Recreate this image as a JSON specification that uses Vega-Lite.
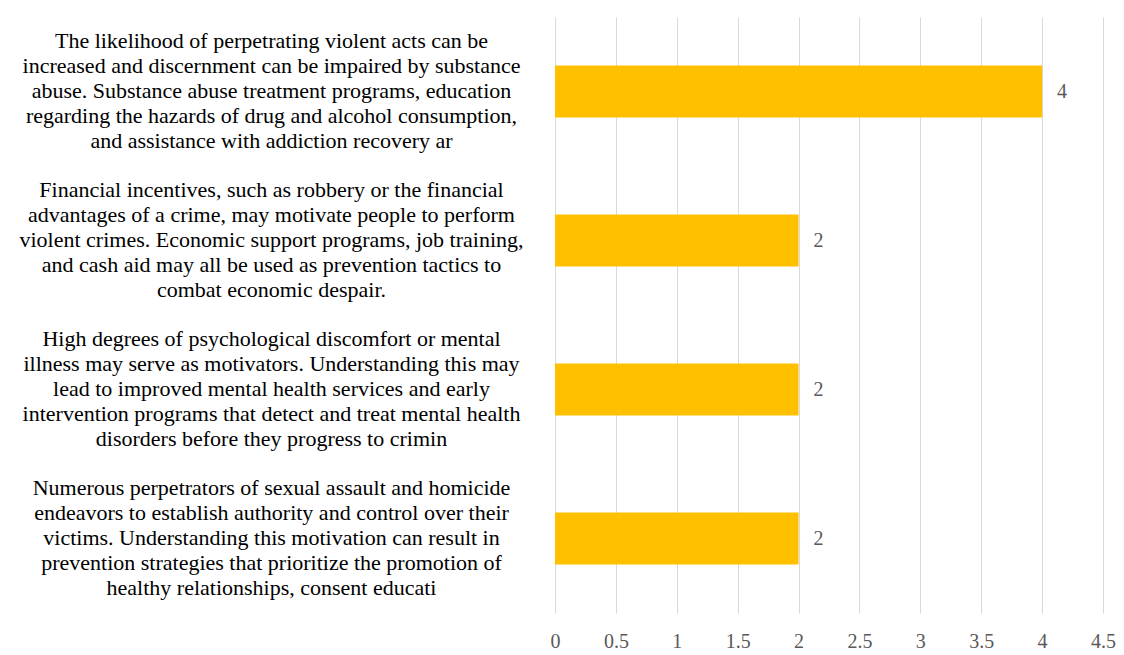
{
  "$schema": "https://vega.github.io/schema/vega-lite/v6.json",
  "autosize": {"type": "none"},
  "width": 548,
  "height": 596,
  "padding": {"left": 555, "top": 17, "right": 21, "bottom": 42},
  "background": "white",
  "config": {"view": {"stroke": null}, "font": "Liberation Serif", "axis": {"labelFont": "Liberation Serif"}, "text": {"font": "Liberation Serif"}},
  "data": {"values": [
    {"label": "The likelihood of perpetrating violent acts can be|increased and discernment can be impaired by substance|abuse. Substance abuse treatment programs, education|regarding the hazards of drug and alcohol consumption,|and assistance with addiction recovery ar", "value": 4},
    {"label": "Financial incentives, such as robbery or the financial|advantages of a crime, may motivate people to perform|violent crimes. Economic support programs, job training,|and cash aid may all be used as prevention tactics to|combat economic despair.", "value": 2},
    {"label": "High degrees of psychological discomfort or mental|illness may serve as motivators. Understanding this may|lead to improved mental health services and early|intervention programs that detect and treat mental health|disorders before they progress to crimin", "value": 2},
    {"label": "Numerous perpetrators of sexual assault and homicide|endeavors to establish authority and control over their|victims. Understanding this motivation can result in|prevention strategies that prioritize the promotion of|healthy relationships, consent educati", "value": 2}
  ]},
  "encoding": {
    "y": {"field": "label", "type": "nominal", "sort": null,
      "scale": {"paddingInner": 0.65, "paddingOuter": 0.325},
      "axis": {"title": null, "domain": false, "ticks": false,
        "labelExpr": "split(datum.value, '|')",
        "labelAlign": "center", "labelPadding": 284, "labelLimit": 0,
        "labelOffset": -51,
        "labelFontSize": 22, "labelLineHeight": 25, "labelColor": "#000000",
        "labelFont": "Liberation Serif"}},
    "x": {"field": "value", "type": "quantitative",
      "scale": {"domain": [0, 4.5], "nice": false},
      "axis": {"title": null, "values": [0,0.5,1,1.5,2,2.5,3,3.5,4,4.5], "format": "~g",
        "domain": false, "ticks": false, "grid": true, "gridColor": "#d9d9d9", "gridWidth": 1,
        "labelFontSize": 20, "labelColor": "#595959", "labelPadding": 18,
        "labelFont": "Liberation Serif", "labelFlush": false}}
  },
  "layer": [
    {"mark": {"type": "bar", "color": "#FFC000"}},
    {"mark": {"type": "text", "align": "left", "baseline": "middle", "dx": 15, "fontSize": 20, "color": "#595959", "font": "Liberation Serif"},
     "encoding": {"text": {"field": "value", "type": "quantitative"}}}
  ]
}
